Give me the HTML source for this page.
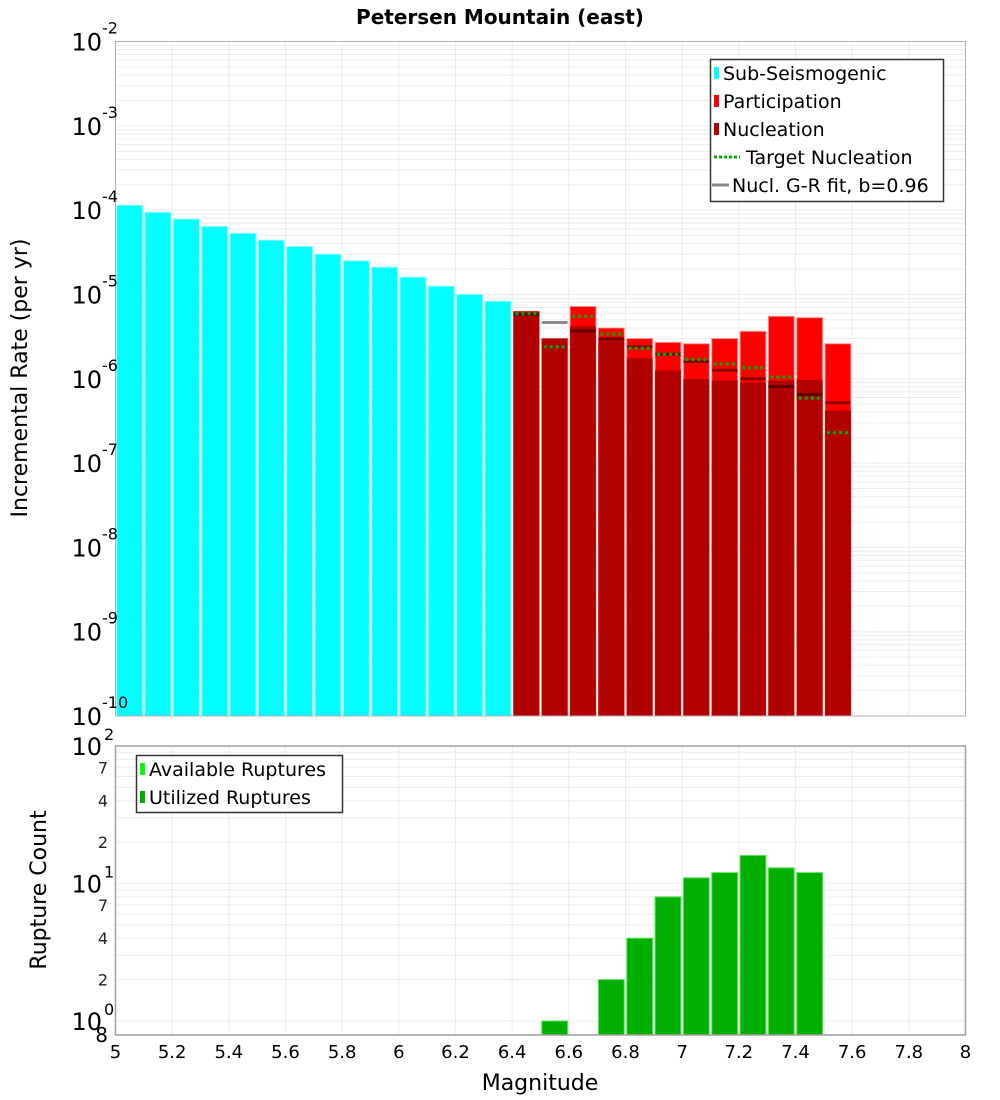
<!DOCTYPE html>
<html><head><meta charset="utf-8"><style>
html,body{margin:0;padding:0;background:#fff;}
svg{display:block;font-family:"DejaVu Sans","Liberation Sans",sans-serif;}
</style></head><body>
<svg id="chart" width="1000" height="1100" viewBox="0 0 1000 1100" xmlns="http://www.w3.org/2000/svg" style="position:absolute;left:0;top:0">
<text x="500" y="24" text-anchor="middle" font-size="20" font-weight="bold">Petersen Mountain (east)</text>
<g id="topg"></g>
<g id="botg"></g>
<text x="540" y="1090" text-anchor="middle" font-size="22">Magnitude</text>
<text transform="translate(27,378) rotate(-90)" text-anchor="middle" font-size="22">Incremental Rate (per yr)</text>
<text transform="translate(46,890) rotate(-90)" text-anchor="middle" font-size="22">Rupture Count</text>
<g font-size="19">
<rect x="710.5" y="59.5" width="233" height="142" fill="#fff" stroke="#333" stroke-width="1.5"/>
<rect x="714" y="67" width="5" height="12" fill="#00ffff"/><text x="723" y="80">Sub-Seismogenic</text>
<rect x="714" y="95" width="5" height="12" fill="#ff0000"/><text x="723" y="108">Participation</text>
<rect x="714" y="123" width="5" height="12" fill="#b20000"/><text x="723" y="136">Nucleation</text>
<line x1="714" x2="740" y1="157" y2="157" stroke="#00b000" stroke-width="3" stroke-dasharray="3,2"/><text x="746" y="164">Target Nucleation</text>
<line x1="712" x2="729" y1="185" y2="185" stroke="#888" stroke-width="3"/><text x="732" y="192">Nucl. G-R fit, b=0.96</text>
</g>
<g font-size="19">
<rect x="136.5" y="755.5" width="206" height="57" fill="#fff" stroke="#333" stroke-width="1.5"/>
<rect x="140" y="763" width="5" height="12" fill="#00ff00"/><text x="149" y="776">Available Ruptures</text>
<rect x="140" y="791" width="5" height="12" fill="#00b000"/><text x="149" y="804">Utilized Ruptures</text>
</g>
</svg>
<script>
const NS="http://www.w3.org/2000/svg";
const subMags=[5.05,5.15,5.25,5.35,5.45,5.55,5.65,5.75,5.85,5.95,6.05,6.15,6.25,6.35];
const subRates=[1.14e-4,9.4e-5,7.8e-5,6.4e-5,5.3e-5,4.4e-5,3.7e-5,3.0e-5,2.5e-5,2.1e-5,1.6e-5,1.25e-5,1.0e-5,8.3e-6];
const supMags=[6.45,6.55,6.65,6.75,6.85,6.95,7.05,7.15,7.25,7.35,7.45,7.55];
const partRates=[6.3e-6,3.0e-6,7.2e-6,4.0e-6,3.0e-6,2.7e-6,2.6e-6,3.0e-6,3.65e-6,5.5e-6,5.3e-6,2.6e-6];
const nuclRates=[6.3e-6,3.0e-6,4.2e-6,3.0e-6,1.75e-6,1.26e-6,9.9e-7,9.5e-7,9.0e-7,9.5e-7,9.7e-7,4.2e-7];
const targetRates=[5.9e-6,2.4e-6,5.5e-6,3.4e-6,2.3e-6,1.95e-6,1.7e-6,1.5e-6,1.35e-6,1.05e-6,5.9e-7,2.3e-7];
const grRates=[5.8e-6,4.65e-6,3.7e-6,3.0e-6,2.4e-6,1.95e-6,1.6e-6,1.26e-6,1.0e-6,8.1e-7,6.5e-7,5.2e-7];
const countMags=[6.55,6.75,6.85,6.95,7.05,7.15,7.25,7.35,7.45];
const countVals=[1,2,4,8,11,12,16,13,12];
const xTicks=[5,5.2,5.4,5.6,5.8,6,6.2,6.4,6.6,6.8,7,7.2,7.4,7.6,7.8,8];
const xTickLabels=["5","5.2","5.4","5.6","5.8","6","6.2","6.4","6.6","6.8","7","7.2","7.4","7.6","7.8","8"];
const topExps=[-2,-3,-4,-5,-6,-7,-8,-9,-10];
const botMinorVals=[2,4,7,20,40,70];

const L=115.5,R=965.5,T1=41.5,B1=716,T2=746,B2=1035;
const xs=m=>L+(m-5)/3*(R-L);
const y1=v=>T1+(-2-Math.log10(v))*(B1-T1)/8;
const y2=v=>1021-Math.log10(v)*137.5;
const bw=(xs(5.1)-xs(5))-2.5;
function el(tag,attrs,parent,txt){const e=document.createElementNS(NS,tag);for(const k in attrs)e.setAttribute(k,attrs[k]);if(txt!==undefined)e.textContent=txt;parent.appendChild(e);return e;}
const topG=document.getElementById('topg'),botG=document.getElementById('botg');

for(let e=-10;e<-2;e++){for(let k=1;k<10;k++){const yy=y1(k*Math.pow(10,e));el('line',{x1:L,x2:R,y1:yy,y2:yy,stroke:'#ebebeb','stroke-width':1},topG);}}
xTicks.forEach(t=>{el('line',{x1:xs(t),x2:xs(t),y1:T1,y2:B1,stroke:'#ebebeb','stroke-width':1},topG);});
[0.8,1,2,3,4,5,6,7,8,9,10,20,30,40,50,60,70,80,90].forEach(v=>{const yy=y2(v);if(yy<=B2&&yy>=T2){el('line',{x1:L,x2:R,y1:yy,y2:yy,stroke:'#ebebeb','stroke-width':1},botG);}});
xTicks.forEach(t=>{el('line',{x1:xs(t),x2:xs(t),y1:T2,y2:B2,stroke:'#ebebeb','stroke-width':1},botG);});

subMags.forEach((m,i)=>{const r=el('rect',{x:xs(m)-bw/2,y:y1(subRates[i]),width:bw,height:B1-y1(subRates[i]),fill:'#00ffff',stroke:'#80ffff','stroke-width':1},topG);

});
supMags.forEach((m,i)=>{const r=el('rect',{x:xs(m)-bw/2,y:y1(partRates[i]),width:bw,height:B1-y1(partRates[i]),fill:'#ff0000',stroke:'#ff9090','stroke-width':1},topG);

});
supMags.forEach((m,i)=>{const r=el('rect',{x:xs(m)-bw/2,y:y1(nuclRates[i]),width:bw,height:B1-y1(nuclRates[i]),fill:'#b20000'},topG);

});
supMags.forEach((m,i)=>{const l=el('line',{x1:xs(m)-bw/2,x2:xs(m)+bw/2,y1:y1(grRates[i]),y2:y1(grRates[i]),stroke:'#000','stroke-opacity':0.45,'stroke-width':3},topG);

});
supMags.forEach((m,i)=>{const l=el('line',{x1:xs(m)-bw/2+2,x2:xs(m)+bw/2-2,y1:y1(targetRates[i]),y2:y1(targetRates[i]),stroke:'#00b000','stroke-width':3,'stroke-dasharray':'3,3'},topG);

});
countMags.forEach((m,i)=>{const r=el('rect',{x:xs(m)-bw/2,y:y2(countVals[i]),width:bw,height:B2-y2(countVals[i]),fill:'#00b000',stroke:'#60e060','stroke-width':1},botG);

});

el('rect',{x:L,y:T1,width:R-L,height:B1-T1,fill:'none',stroke:'#b0b0b0','stroke-width':1},topG);
el('rect',{x:L,y:T2,width:R-L,height:B2-T2,fill:'none',stroke:'#a0a0a0','stroke-width':1.5},botG);

topExps.forEach(e=>{const yy=y1(Math.pow(10,e));const t=el('text',{x:102,y:yy+9,'font-size':24,'text-anchor':'end'},topG,'10');


el('text',{x:102,y:yy-8,'font-size':16},topG,String(e));});
[[100,'2'],[10,'1'],[1,'0']].forEach(([v,s])=>{const yy=y2(v);const t=el('text',{x:102,y:yy+9,'font-size':24,'text-anchor':'end'},botG,'10');


el('text',{x:104,y:yy-6,'font-size':16},botG,s);});
botMinorVals.forEach(v=>{const yy=y2(v);el('text',{x:108,y:yy+6,'font-size':16,'text-anchor':'end',fill:'#222'},botG,String(v<10?v:v/10));});
el('text',{x:108,y:1042,'font-size':20,'text-anchor':'end'},botG,'8');
xTicks.forEach((t,i)=>{const tx=el('text',{x:xs(t),y:1058,'font-size':18,'text-anchor':'middle'},botG,xTickLabels[i]);

});
</script>
</body></html>
